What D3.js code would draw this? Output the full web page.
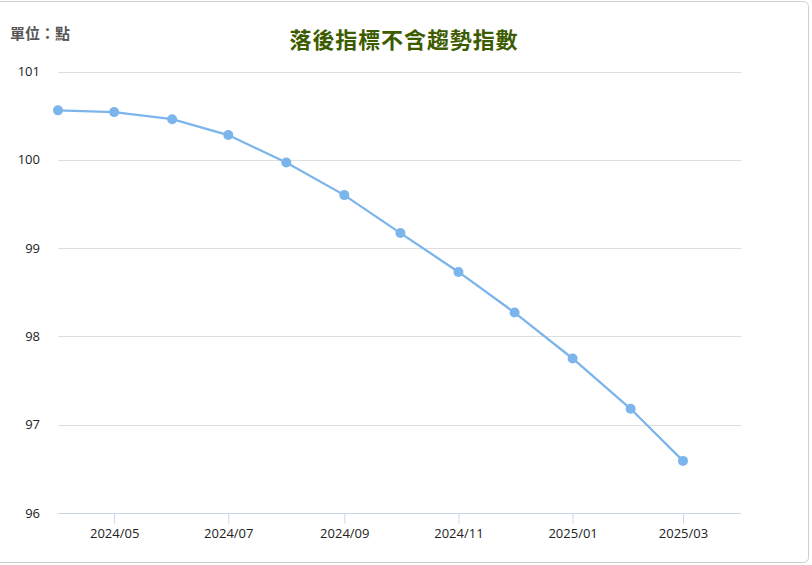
<!DOCTYPE html>
<html>
<head>
<meta charset="utf-8">
<script src="https://cdn.jsdelivr.net/npm/d3@7"></script>
<style>
  html, body { margin: 0; padding: 0; background: #fff; overflow: hidden; }
  svg { display: block; }
</style>
</head>
<body>
<svg width="812" height="565"></svg>
<script>
var svg = d3.select('svg');

// data
var months = ['2024-04', '2024-05', '2024-06', '2024-07', '2024-08', '2024-09',
              '2024-10', '2024-11', '2024-12', '2025-01', '2025-02', '2025-03'];
var values = [100.56, 100.54, 100.46, 100.28, 99.97, 99.60,
              99.17, 98.73, 98.27, 97.75, 97.18, 96.59];
var yTicks = [96, 97, 98, 99, 100, 101];
var xTicks = ['2024-05', '2024-07', '2024-09', '2024-11', '2025-01', '2025-03'];

var parse = d3.timeParse('%Y-%m');
var data = months.map(function(m, i){
    return {date: parse(m), value: values[i]};
});

var plotLeft = 58, plotRight = 741, plotTop = 71.5, plotBottom = 513;

var x = d3.scaleTime()
    .domain([parse('2024-04'), parse('2025-04')])
    .range([plotLeft, plotRight]);

var y = d3.scaleLinear()
    .domain([96, 101])
    .range([plotBottom, plotTop]);

// container border
svg.append('rect')
    .attr('x', -10)
    .attr('y', 1.5)
    .attr('width', 818.5)
    .attr('height', 561)
    .attr('rx', 5)
    .attr('fill', '#fff')
    .attr('stroke', '#cfcfcf');

// grid lines
svg.append('g')
    .selectAll('line')
    .data(yTicks.filter(function(d){ return d > 96; }))
    .enter()
    .append('line')
    .attr('x1', plotLeft)
    .attr('x2', plotRight)
    .attr('y1', function(d){ return Math.round(y(d)) + 0.5; })
    .attr('y2', function(d){ return Math.round(y(d)) + 0.5; })
    .attr('stroke', '#dedede')
    .attr('stroke-width', 1);

// y labels
svg.append('g')
    .selectAll('text')
    .data(yTicks)
    .enter()
    .append('text')
    .attr('x', 40)
    .attr('y', function(d){ return y(d); })
    .attr('dy', '0.35em')
    .attr('text-anchor', 'end')
    .attr('font-family', 'Open Sans, Noto Sans, sans-serif')
    .attr('font-size', 13)
    .attr('fill', '#222')
    .text(function(d){ return d; });

// x axis
var xAxis = d3.axisBottom(x)
    .tickValues(xTicks.map(parse))
    .tickFormat(d3.timeFormat('%Y/%m'))
    .tickSize(10)
    .tickPadding(5);

var gx = svg.append('g')
    .attr('transform', 'translate(0,' + (Math.round(plotBottom) + 0.5) + ')')
    .call(xAxis);

gx.select('.domain')
    .attr('stroke', '#ccd6eb')
    .attr('d', 'M' + plotLeft + ',0H' + plotRight);
gx.selectAll('.tick line').attr('stroke', '#ccd6eb');
gx.selectAll('.tick text')
    .attr('font-family', 'Open Sans, Noto Sans, sans-serif')
    .attr('font-size', 13)
    .attr('fill', '#222');

// line
var line = d3.line()
    .x(function(d){ return x(d.date); })
    .y(function(d){ return y(d.value); });

svg.append('path')
    .datum(data)
    .attr('d', line)
    .attr('fill', 'none')
    .attr('stroke', '#7cb5ec')
    .attr('stroke-width', 2.3);

svg.append('g')
    .selectAll('circle')
    .data(data)
    .enter()
    .append('circle')
    .attr('cx', function(d){ return x(d.date); })
    .attr('cy', function(d){ return y(d.value); })
    .attr('r', 5)
    .attr('fill', '#7cb5ec');

// title and unit
svg.append('text')
    .attr('x', 404)
    .attr('y', 48)
    .attr('text-anchor', 'middle')
    .attr('font-family', 'Noto Sans CJK TC, sans-serif')
    .attr('font-size', 22)
    .attr('font-weight', 'bold')
    .attr('letter-spacing', 0.9)
    .attr('fill', '#3d5c00')
    .text('落後指標不含趨勢指數');

svg.append('text')
    .attr('x', 10)
    .attr('y', 39)
    .attr('font-family', 'Noto Sans CJK TC, sans-serif')
    .attr('font-size', 15)
    .attr('font-weight', 'bold')
    .attr('fill', '#555')
    .text('單位：點');
</script>
</body>
</html>
